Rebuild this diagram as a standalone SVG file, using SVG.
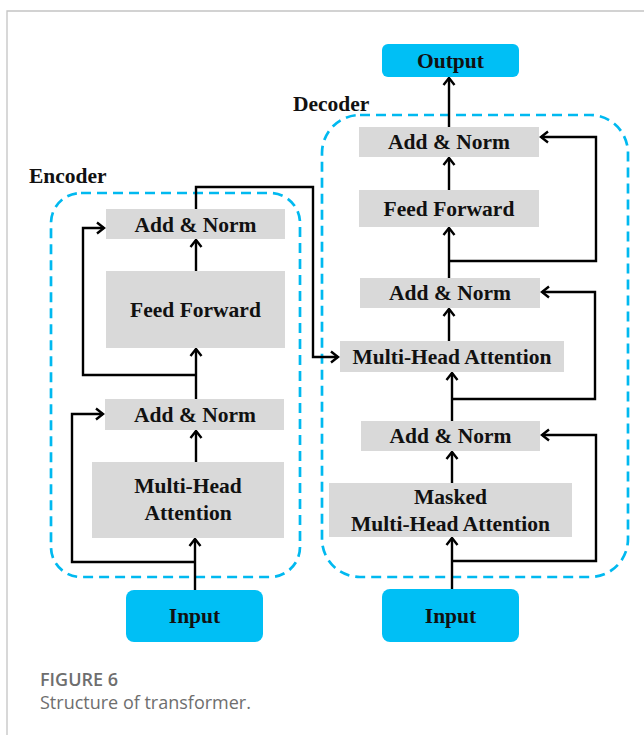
<svg xmlns="http://www.w3.org/2000/svg" width="644" height="735" viewBox="0 0 644 735">
<style>
.bg{fill:#ffffff}
.frame{fill:none;stroke:#c4c4c4;stroke-width:1.3}
.grp{fill:none;stroke:#00b9f0;stroke-width:2.7;stroke-dasharray:10 6}
.blk{fill:#d9d9d9}
.io{fill:#00bff5}
.t{font-family:"Liberation Serif","Times New Roman",serif;font-weight:bold;font-size:21.5px;fill:#111111;text-anchor:middle}
.lab{font-family:"Liberation Serif","Times New Roman",serif;font-weight:bold;font-size:21.5px;fill:#111111}
.c{fill:none;stroke:#000;stroke-width:2.4;marker-end:url(#ah)}
.cap1{font-family:"Open Sans","Noto Sans",sans-serif;font-weight:600;font-size:18px;fill:#6e6e6e}
.cap2{font-family:"Open Sans","Noto Sans",sans-serif;font-size:18px;fill:#6e6e6e}
</style>
<defs>
<marker id="ah" markerUnits="userSpaceOnUse" viewBox="-9 -7 11 14" markerWidth="11" markerHeight="14" refX="0" refY="0" orient="auto">
<path d="M-7,-5.5 L0,0 L-7,5.5" fill="none" stroke="#000" stroke-width="2.4"/>
</marker>
</defs>
<rect class="bg" x="0" y="0" width="644" height="735"/>
<path class="frame" d="M644,11 H7 V735"/>

<g id="encoder-group">
<rect class="grp" x="51" y="193" width="249" height="384" rx="30"/>
<text class="lab" x="29" y="183">Encoder</text>
</g>
<g id="decoder-group">
<rect class="grp" x="322" y="115" width="306" height="462" rx="38"/>
<text class="lab" x="293" y="111">Decoder</text>
</g>

<g id="connectors">
<path class="c" d="M195,590 V539"/>
<path class="c" d="M195,562 H72 V414 H103"/>
<path class="c" d="M196,462 V431"/>
<path class="c" d="M196,399 V349"/>
<path class="c" d="M196,375 H83 V228 H104"/>
<path class="c" d="M196,271 V240"/>
<path class="c" d="M196,209 V187 H313 V357 H338"/>
<path class="c" d="M452,589 V538"/>
<path class="c" d="M452,561 H596 V435 H542"/>
<path class="c" d="M452,483 V452"/>
<path class="c" d="M452,421 V373"/>
<path class="c" d="M452,399 H595 V292 H542"/>
<path class="c" d="M449,341 V309"/>
<path class="c" d="M449,278 V228"/>
<path class="c" d="M449,261 H596 V137 H541"/>
<path class="c" d="M449,190 V158"/>
<path class="c" d="M449,127 V78"/>
</g>

<g id="enc-input"><rect class="io" x="126" y="590" width="137" height="52" rx="8"/><text class="t" x="194.5" y="623">Input</text></g>
<g id="enc-mha"><rect class="blk" x="92" y="462" width="192" height="76"/><text class="t" x="188" y="493">Multi-Head</text><text class="t" x="188" y="520">Attention</text></g>
<g id="enc-addnorm1"><rect class="blk" x="105" y="399" width="179" height="31"/><text class="t" x="195" y="422">Add &amp; Norm</text></g>
<g id="enc-ff"><rect class="blk" x="106" y="271" width="179" height="77"/><text class="t" x="195.5" y="317">Feed Forward</text></g>
<g id="enc-addnorm2"><rect class="blk" x="106" y="209" width="179" height="30"/><text class="t" x="195.5" y="232">Add &amp; Norm</text></g>

<g id="dec-input"><rect class="io" x="382" y="589" width="137" height="53" rx="8"/><text class="t" x="450.5" y="623">Input</text></g>
<g id="dec-masked"><rect class="blk" x="329" y="483" width="243" height="54"/><text class="t" x="450.5" y="504">Masked</text><text class="t" x="450.5" y="531">Multi-Head Attention</text></g>
<g id="dec-addnorm1"><rect class="blk" x="361" y="421" width="179" height="30"/><text class="t" x="450.5" y="443">Add &amp; Norm</text></g>
<g id="dec-mha"><rect class="blk" x="340" y="341" width="224" height="31"/><text class="t" x="452" y="364">Multi-Head Attention</text></g>
<g id="dec-addnorm2"><rect class="blk" x="360" y="278" width="180" height="30"/><text class="t" x="450" y="300">Add &amp; Norm</text></g>
<g id="dec-ff"><rect class="blk" x="359" y="190" width="180" height="37"/><text class="t" x="449" y="216">Feed Forward</text></g>
<g id="dec-addnorm3"><rect class="blk" x="359" y="127" width="180" height="30"/><text class="t" x="449" y="149">Add &amp; Norm</text></g>
<g id="output"><rect class="io" x="382" y="44" width="137" height="33" rx="6"/><text class="t" x="450.5" y="68">Output</text></g>

<g id="caption">
<text class="cap1" x="40" y="686">FIGURE 6</text>
<text class="cap2" x="40" y="709">Structure of transformer.</text>
</g>
</svg>
